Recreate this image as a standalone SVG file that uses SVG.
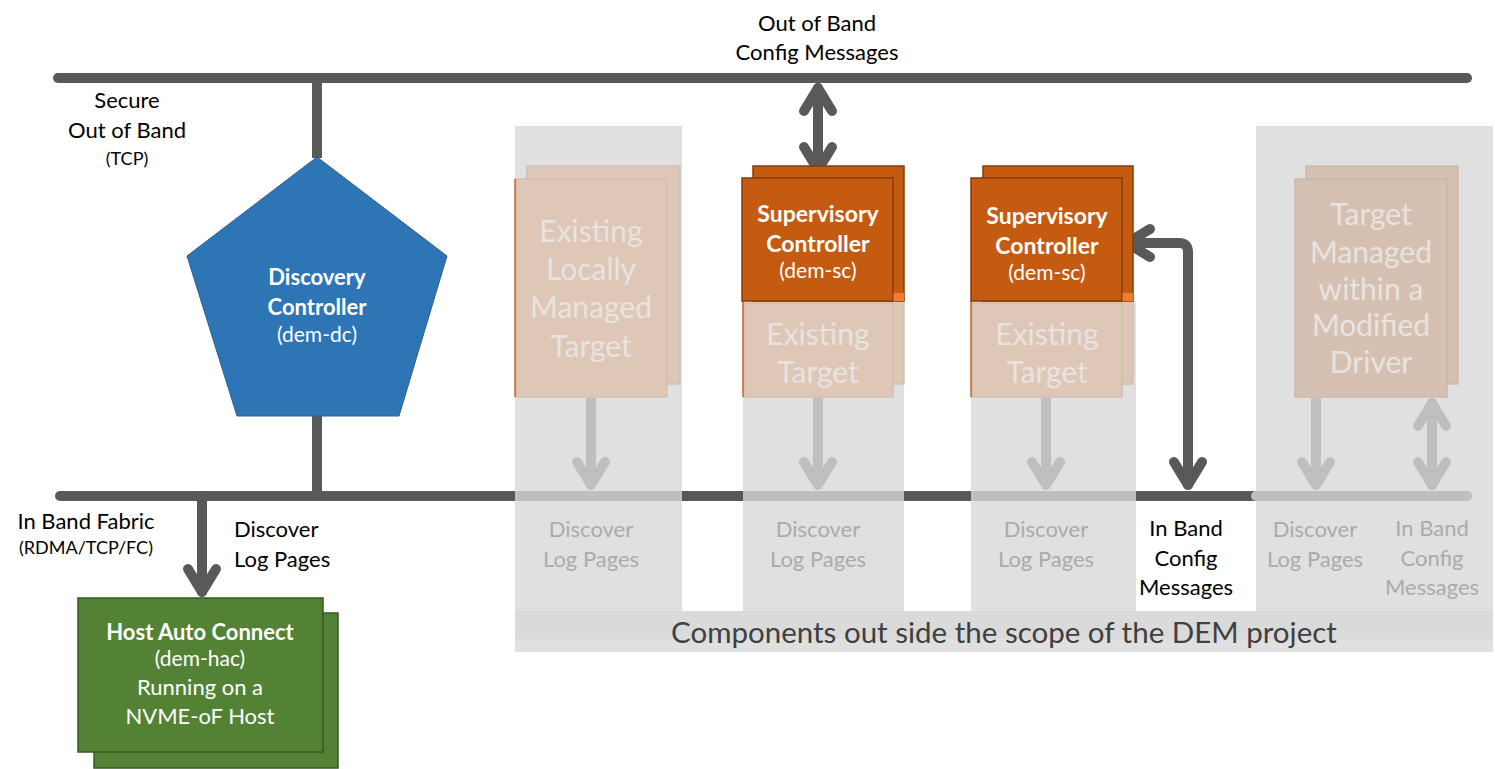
<svg xmlns="http://www.w3.org/2000/svg" width="1495" height="769" viewBox="0 0 1495 769">
<style>
text{font-family:Lato,"Liberation Sans",sans-serif;text-anchor:middle}
.lbl{font-size:22px;fill:#000}
.sm{font-size:18px}
.dem{font-size:21px;fill:#fff}
.wb{font-size:22px;font-weight:bold;fill:#fff}
.sc{font-size:23px}
.w{fill:#fff}
.fadeT{font-size:30px;fill:#E8E3DF}
.fadeL{font-size:22px;fill:#ABABAB}
.bus{stroke:#595959;stroke-width:10;fill:none}
.busL{stroke:#BFBFBF;stroke-width:10;fill:none}
.ar{stroke:#595959;stroke-width:10;fill:none;stroke-linejoin:round}
.arL{stroke:#BFBFBF;stroke-width:10;fill:none;stroke-linejoin:round}
.col{fill:#E0E0E0}
.org{fill:#C55A11;stroke:#843C0C;stroke-width:1.5}
.tan{fill:#DEC7B7;stroke:#CFBAAB;stroke-width:1.2}
.tan4{fill:#D6C0B1;stroke:#CBB5A6;stroke-width:1.2}
.grn{fill:#548235;stroke:#385723;stroke-width:1.5}
</style>
<defs>
<marker id="ahD" markerUnits="userSpaceOnUse" markerWidth="60" markerHeight="60" viewBox="-30 -30 60 60" refX="0" refY="0" orient="auto-start-reverse" overflow="visible">
<path d="M-23,-14 L0,0 L-23,14" fill="none" stroke="#595959" stroke-width="10" stroke-linecap="round" stroke-linejoin="round"/>
</marker>
<marker id="ahL" markerUnits="userSpaceOnUse" markerWidth="60" markerHeight="60" viewBox="-30 -30 60 60" refX="0" refY="0" orient="auto-start-reverse" overflow="visible">
<path d="M-23,-14 L0,0 L-23,14" fill="none" stroke="#BFBFBF" stroke-width="10" stroke-linecap="round" stroke-linejoin="round"/>
</marker>
</defs>

<g id="scope-columns">
<rect class="col" x="515" y="126" width="167" height="513"/>
<rect class="col" x="743" y="301" width="161" height="338"/>
<rect class="col" x="971" y="301" width="165" height="338"/>
<rect class="col" x="1256" y="126" width="237" height="513"/>
<rect x="515" y="611" width="978" height="41" fill="#E0E0E0"/>
<rect x="515" y="611" width="978" height="28" fill="#DADADA"/>
</g>

<g id="connectors">
<line class="bus" x1="58" y1="78" x2="1467" y2="78" stroke-linecap="round"/>
<path class="bus" d="M60,496 H515" stroke-linecap="round"/>
<path class="bus" d="M682,496 H743 M904,496 H971 M1136,496 H1256"/>
<path class="busL" d="M515,496 H682 M743,496 H904 M971,496 H1136"/>
<path class="busL" d="M1256,496 H1467" stroke-linecap="round"/>
<line class="bus" x1="317" y1="78" x2="317" y2="158"/>
<line class="bus" x1="317" y1="414" x2="317" y2="496"/>
<path class="ar" d="M202,496 V592" stroke-linecap="round" marker-end="url(#ahD)"/>
<path class="ar" d="M818,88 V170" stroke-linecap="round" marker-start="url(#ahD)" marker-end="url(#ahD)"/>
<path class="ar" d="M1127,243 H1179 Q1188,243 1188,252 V485" stroke-linecap="round" marker-start="url(#ahD)" marker-end="url(#ahD)"/>
<path class="arL" d="M591,398 V485" marker-end="url(#ahL)"/>
<path class="arL" d="M818,398 V485" marker-end="url(#ahL)"/>
<path class="arL" d="M1046,398 V485" marker-end="url(#ahL)"/>
<path class="arL" d="M1316,398 V485" marker-end="url(#ahL)"/>
<path class="arL" d="M1432,403 V485" stroke-linecap="round" marker-start="url(#ahL)" marker-end="url(#ahL)"/>
</g>

<g id="discovery-controller">
<polygon points="317,157 447,256 399,416 237,416 187,256" fill="#2E75B6" stroke="#2F5F8F" stroke-width="1"/>
<text class="wb" x="317" y="285">Discovery</text>
<text class="wb" x="317" y="315">Controller</text>
<text class="dem" x="317" y="342">(dem-dc)</text>
</g>

<g id="host-auto-connect">
<rect class="grn" x="94" y="613" width="244" height="155"/>
<rect class="grn" x="78" y="598" width="245" height="154"/>
<text class="wb" x="200" y="640" font-size="22.5">Host Auto Connect</text>
<text class="dem" x="200" y="666">(dem-hac)</text>
<text class="w" x="200" y="695" font-size="22">Running on a</text>
<text class="w" x="200" y="724" font-size="22">NVME-oF Host</text>
</g>

<g id="locally-managed-target">
<rect class="tan" x="527" y="166" width="153" height="218"/>
<rect class="tan" x="516" y="179" width="151" height="218"/>
<line x1="515" y1="179" x2="515" y2="397" stroke="#B8672A" stroke-width="1.5"/>
<text class="fadeT" x="591" y="242">Existing</text>
<text class="fadeT" x="591" y="280">Locally</text>
<text class="fadeT" x="591" y="318">Managed</text>
<text class="fadeT" x="591" y="357">Target</text>
</g>

<g id="existing-target-1">
<rect class="tan" x="753" y="301" width="151" height="83"/>
<rect class="tan" x="744" y="303" width="149" height="94"/>
<line x1="743" y1="301" x2="743" y2="397" stroke="#B8672A" stroke-width="1.5"/>
<text class="fadeT" x="818" y="345">Existing</text>
<text class="fadeT" x="818" y="383">Target</text>
</g>

<g id="supervisory-controller-1">
<rect class="org" x="753" y="166" width="151" height="135"/>
<rect class="org" x="742" y="178" width="151" height="123"/>
<rect x="893.5" y="293" width="10.5" height="8" fill="#ED7D31"/>
<text class="wb sc" x="818" y="222">Supervisory</text>
<text class="wb sc" x="818" y="252">Controller</text>
<text class="dem" x="818" y="278">(dem-sc)</text>
</g>

<g id="existing-target-2">
<rect class="tan" x="983" y="301" width="150" height="83"/>
<rect class="tan" x="972" y="303" width="150" height="94"/>
<line x1="971" y1="301" x2="971" y2="397" stroke="#B8672A" stroke-width="1.5"/>
<text class="fadeT" x="1047" y="345">Existing</text>
<text class="fadeT" x="1047" y="383">Target</text>
</g>

<g id="supervisory-controller-2">
<rect class="org" x="983" y="166" width="150" height="135"/>
<rect class="org" x="971" y="178" width="151" height="123"/>
<rect x="1122.5" y="293" width="10.5" height="8" fill="#ED7D31"/>
<text class="wb sc" x="1047" y="224">Supervisory</text>
<text class="wb sc" x="1047" y="254">Controller</text>
<text class="dem" x="1047" y="280">(dem-sc)</text>
</g>

<g id="modified-driver-target">
<rect class="tan4" x="1306" y="166" width="152" height="218"/>
<rect class="tan4" x="1295" y="179" width="152" height="218"/>
<text class="fadeT" x="1371" y="225">Target</text>
<text class="fadeT" x="1371" y="263">Managed</text>
<text class="fadeT" x="1371" y="300">within a</text>
<text class="fadeT" x="1371" y="336">Modified</text>
<text class="fadeT" x="1371" y="373">Driver</text>
</g>

<g id="labels">
<text class="lbl" x="817" y="31">Out of Band</text>
<text class="lbl" x="817" y="60">Config Messages</text>
<text class="lbl" x="127" y="108">Secure</text>
<text class="lbl" x="127" y="138">Out of Band</text>
<text class="lbl sm" x="127" y="165">(TCP)</text>
<text class="lbl" x="86" y="529">In Band Fabric</text>
<text class="lbl sm" x="86" y="554">(RDMA/TCP/FC)</text>
<text class="lbl" x="234" y="537" style="text-anchor:start">Discover</text>
<text class="lbl" x="234" y="567" style="text-anchor:start">Log Pages</text>
<text class="lbl" x="1186" y="536">In Band</text>
<text class="lbl" x="1186" y="566">Config</text>
<text class="lbl" x="1186" y="595">Messages</text>
<text class="fadeL" x="591" y="537">Discover</text>
<text class="fadeL" x="591" y="567">Log Pages</text>
<text class="fadeL" x="818" y="537">Discover</text>
<text class="fadeL" x="818" y="567">Log Pages</text>
<text class="fadeL" x="1046" y="537">Discover</text>
<text class="fadeL" x="1046" y="567">Log Pages</text>
<text class="fadeL" x="1315" y="537">Discover</text>
<text class="fadeL" x="1315" y="567">Log Pages</text>
<text class="fadeL" x="1432" y="536">In Band</text>
<text class="fadeL" x="1432" y="566">Config</text>
<text class="fadeL" x="1432" y="595">Messages</text>
<text x="1004" y="643" font-size="29.5" fill="#404040">Components out side the scope of the DEM project</text>
</g>
</svg>
